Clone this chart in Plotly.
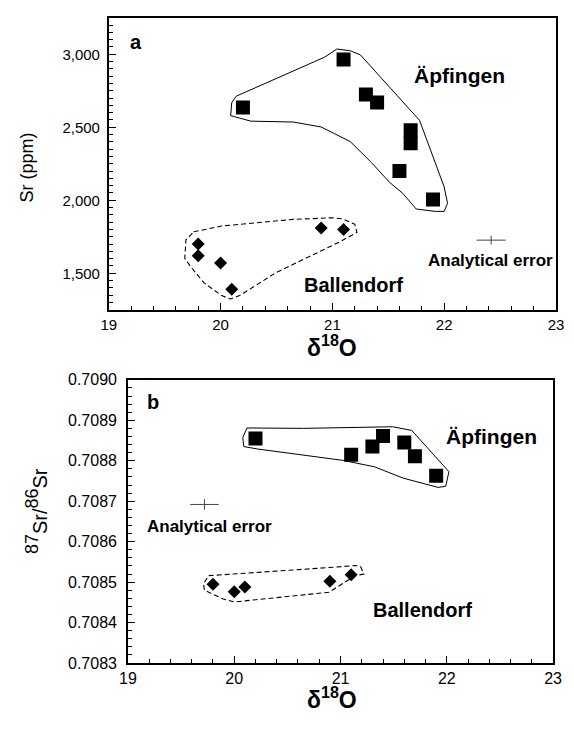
import plotly.graph_objects as go

# ---------------- Data ----------------
# Panel a: d18O vs Sr (ppm)
a_apf_d18o = [20.2, 21.1, 21.3, 21.4, 21.7, 21.7, 21.6, 21.9]
a_apf_sr = [2635, 2965, 2725, 2670, 2480, 2390, 2200, 2005]
a_bal_d18o = [19.8, 19.8, 20.0, 20.1, 20.9, 21.1]
a_bal_sr = [1700, 1620, 1570, 1390, 1810, 1800]

# Panel b: d18O vs 87Sr/86Sr
b_apf_d18o = [20.2, 21.1, 21.3, 21.4, 21.6, 21.7, 21.9]
b_apf_ratio = [0.708855, 0.708815, 0.708835, 0.708861, 0.708845, 0.708811, 0.708763]
b_bal_d18o = [19.8, 20.0, 20.1, 20.9, 21.1]
b_bal_ratio = [0.708495, 0.708476, 0.708488, 0.708502, 0.708518]

# Group outlines (hand-drawn envelopes)
a_apf_hull_x = [20.14, 20.93, 21.04, 21.16, 21.25, 21.78, 22.00, 22.03, 22.00, 21.92, 21.75, 21.63, 21.51, 21.35, 21.16, 20.90, 20.65, 20.27, 20.09, 20.10, 20.14]
a_apf_hull_y = [2713, 2980, 3036, 3024, 2996, 2547, 2091, 1980, 1924, 1924, 1940, 2047, 2124, 2258, 2402, 2502, 2536, 2542, 2580, 2669, 2713]
a_bal_hull_x = [19.76, 20.01, 20.65, 20.99, 21.09, 21.20, 21.22, 21.06, 20.49, 20.17, 20.09, 20.01, 19.85, 19.73, 19.68, 19.69, 19.76]
a_bal_hull_y = [1784, 1824, 1869, 1880, 1873, 1836, 1780, 1713, 1502, 1347, 1324, 1347, 1436, 1547, 1602, 1729, 1784]
b_apf_hull_x = [20.12, 20.49, 20.65, 21.49, 21.67, 22.02, 21.99, 21.92, 21.59, 21.32, 21.02, 20.22, 20.09, 20.08, 20.12]
b_apf_hull_y = [0.708881, 0.708881, 0.708880, 0.708884, 0.708875, 0.708773, 0.708737, 0.708734, 0.708757, 0.708785, 0.708801, 0.708829, 0.708835, 0.708857, 0.708881]
b_bal_hull_x = [19.76, 20.49, 20.89, 21.14, 21.19, 21.22, 21.14, 20.89, 20.00, 19.89, 19.72, 19.71, 19.76]
b_bal_hull_y = [0.708516, 0.708528, 0.708536, 0.708541, 0.708538, 0.708520, 0.708516, 0.708475, 0.708451, 0.708459, 0.708480, 0.708496, 0.708516]

# Analytical error crosses: centre and half-widths
a_err = dict(x=22.42, y=1727, ex=0.13, ey=30)
b_err = dict(x=19.72, y=0.708692, ex=0.135, ey=0.0000128)

x_ticks = [19, 20, 21, 22, 23]
a_y_ticks = [1500, 2000, 2500, 3000]
a_y_ticklabels = ["1,500", "2,000", "2,500", "3,000"]
b_y_ticks = [0.7083, 0.7084, 0.7085, 0.7086, 0.7087, 0.7088, 0.7089, 0.7090]
b_y_ticklabels = ["0.7083", "0.7084", "0.7085", "0.7086", "0.7087", "0.7088", "0.7089", "0.7090"]

FONT = "Liberation Sans, Arial, Helvetica, sans-serif"
W, H = 574, 729

fig = go.Figure()

def add_panel(xa, ya, apf_x, apf_y, bal_x, bal_y, hull_apf, hull_bal, err, sq_size):
    fig.add_trace(go.Scatter(x=hull_apf[0], y=hull_apf[1], mode="lines",
                             line=dict(color="black", width=1), xaxis=xa, yaxis=ya,
                             showlegend=False, hoverinfo="skip"))
    fig.add_trace(go.Scatter(x=hull_bal[0], y=hull_bal[1], mode="lines",
                             line=dict(color="black", width=1.1, dash="5px,3px"), xaxis=xa, yaxis=ya,
                             showlegend=False, hoverinfo="skip"))
    fig.add_trace(go.Scatter(x=apf_x, y=apf_y, mode="markers",
                             marker=dict(symbol="square", size=sq_size, color="black"),
                             xaxis=xa, yaxis=ya, showlegend=False))
    fig.add_trace(go.Scatter(x=bal_x, y=bal_y, mode="markers",
                             marker=dict(symbol="diamond", size=10, color="black"),
                             xaxis=xa, yaxis=ya, showlegend=False))
    fig.add_trace(go.Scatter(x=[err["x"]], y=[err["y"]], mode="markers",
                             marker=dict(size=1, color="rgba(0,0,0,0)"),
                             error_x=dict(type="data", array=[err["ex"]], width=0, thickness=1, color="#444"),
                             error_y=dict(type="data", array=[err["ey"]], width=0, thickness=1, color="#444"),
                             xaxis=xa, yaxis=ya, showlegend=False, hoverinfo="skip"))

add_panel("x", "y", a_apf_d18o, a_apf_sr, a_bal_d18o, a_bal_sr,
          (a_apf_hull_x, a_apf_hull_y), (a_bal_hull_x, a_bal_hull_y), a_err, 14)
add_panel("x2", "y2", b_apf_d18o, b_apf_ratio, b_bal_d18o, b_bal_ratio,
          (b_apf_hull_x, b_apf_hull_y), (b_bal_hull_x, b_bal_hull_y), b_err, 14)

axis_common = dict(showline=True, linecolor="black", linewidth=1.6, mirror=True,
                   ticks="inside", tickcolor="black", tickwidth=1.3, ticklen=7,
                   showgrid=False, zeroline=False)

fig.update_layout(
    width=W, height=H, margin=dict(l=0, r=0, t=0, b=0),
    paper_bgcolor="white", plot_bgcolor="white",
    font=dict(family=FONT, color="black"),
    xaxis=dict(domain=[103 / W, 564.7 / W], anchor="y", range=[19, 23], tickvals=x_ticks,
               minor=dict(dtick=0.2, tick0=19, ticks="inside", ticklen=4, tickcolor="black", tickwidth=1.1),
               tickfont=dict(family=FONT, color="black", size=15), **axis_common),
    yaxis=dict(domain=[1 - 309 / H, 1 - 10 / H], anchor="x", range=[1250, 3250],
               tickvals=a_y_ticks, ticktext=a_y_ticklabels, ticklabelstandoff=4,
               minor=dict(dtick=50, tick0=1250, ticks="inside", ticklen=4, tickcolor="black", tickwidth=1.1),
               tickfont=dict(family=FONT, color="black", size=15), **axis_common),
    xaxis2=dict(domain=[122.8 / W, 561.7 / W], anchor="y2", range=[19, 23], tickvals=x_ticks,
                minor=dict(dtick=0.2, tick0=19, ticks="inside", ticklen=4, tickcolor="black", tickwidth=1.1),
                tickfont=dict(family=FONT, color="black", size=16), **axis_common),
    yaxis2=dict(domain=[1 - 670.7 / H, 1 - 380.7 / H], anchor="x2", range=[0.7083, 0.7090],
                tickvals=b_y_ticks, ticktext=b_y_ticklabels, ticklabelstandoff=6,
                minor=dict(dtick=0.00002, tick0=0.7083, ticks="inside", ticklen=4, tickcolor="black", tickwidth=1.1),
                tickfont=dict(family=FONT, color="black", size=16), **axis_common),
)

def ann(text, x, y, xref, yref, size, bold=True, angle=0):
    t = f"<b>{text}</b>" if bold else text
    fig.add_annotation(text=t, x=x, y=y, xref=xref, yref=yref, showarrow=False,
                       xanchor="center", yanchor="middle", textangle=angle,
                       font=dict(family=FONT, size=size, color="black"))

# panel a texts
ann("a", 19.24, 3083, "x", "y", 20)
ann("Äpfingen", 22.14, 2857, "x", "y", 21)
ann("Ballendorf", 21.19, 1423, "x", "y", 20)
ann("Analytical error", 22.41, 1590, "x", "y", 17)
# panel b texts
ann("b", 19.24, 0.708944, "x2", "y2", 20)
ann("Äpfingen", 22.42, 0.708859, "x2", "y2", 21)
ann("Ballendorf", 21.77, 0.708432, "x2", "y2", 20)
ann("Analytical error", 19.77, 0.708638, "x2", "y2", 17)

# axis titles
ann("Sr (ppm)", 19 / W, 1 - 163 / H, "paper", "paper", 18, bold=False, angle=-90)
ann("δ<sup>18</sup>O", 333 / W, 1 - 346 / H, "paper", "paper", 23)
ann('<sup><span style="font-size:18px">87</span></sup>Sr/<sup><span style="font-size:18px">86</span></sup>Sr',
    28 / W, 1 - 515 / H, "paper", "paper", 20, bold=False, angle=-90)
ann("δ<sup>18</sup>O", 333 / W, 1 - 706 / H, "paper", "paper", 23)

fig.write_html("out.html")
